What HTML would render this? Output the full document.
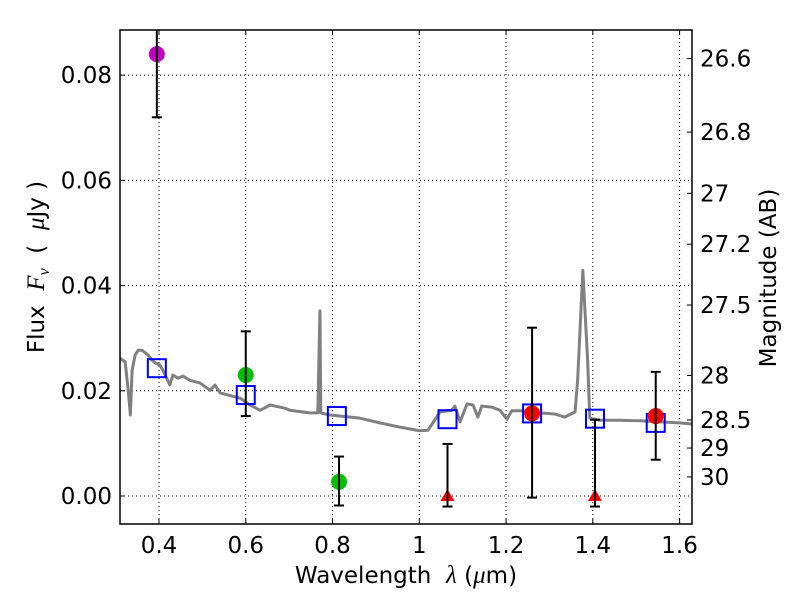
<!DOCTYPE html>
<html><head><meta charset="utf-8"><style>
html,body{margin:0;padding:0;background:#fff;}
svg{display:block;font-family:"DejaVu Sans","Liberation Sans",sans-serif;}
</style></head><body>
<svg id="chart" width="800" height="600" viewBox="0 0 800 600" xmlns="http://www.w3.org/2000/svg"></svg>
<script>
const xTicks=[0.4,0.6,0.8,1.0,1.2,1.4,1.6];
const xTickLabels=["0.4","0.6","0.8","1","1.2","1.4","1.6"];
const yTicks=[0,0.02,0.04,0.06,0.08];
const yTickLabels=["0.00","0.02","0.04","0.06","0.08"];
const magTicks=[26.6,26.8,27,27.2,27.5,28,28.5,29,30];
const magTickLabels=["26.6","26.8","27","27.2","27.5","28","28.5","29","30"];
const specWave=[0.310,0.322,0.329,0.334,0.338,0.345,0.352,0.361,0.375,0.384,0.391,0.402,0.409,0.425,0.432,0.444,0.455,0.471,0.494,0.518,0.529,0.541,0.587,0.610,0.633,0.656,0.690,0.702,0.729,0.748,0.766,0.771,0.773,0.794,0.863,0.909,0.955,1.001,1.020,1.048,1.075,1.082,1.094,1.110,1.124,1.135,1.144,1.167,1.186,1.202,1.213,1.232,1.278,1.312,1.335,1.359,1.365,1.377,1.388,1.393,1.416,1.462,1.508,1.554,1.600,1.628];
const specFlux=[0.0262,0.0255,0.0201,0.0154,0.0239,0.0268,0.0277,0.0277,0.0268,0.0258,0.0253,0.0249,0.0239,0.0211,0.0230,0.0224,0.0228,0.0220,0.0215,0.0201,0.0211,0.0196,0.0186,0.0173,0.0163,0.0173,0.0167,0.0163,0.0160,0.0158,0.0158,0.0352,0.0158,0.0154,0.0148,0.0139,0.0131,0.0124,0.0125,0.0160,0.0163,0.0171,0.0141,0.0175,0.0173,0.0150,0.0171,0.0169,0.0163,0.0146,0.0162,0.0162,0.0158,0.0156,0.0150,0.0160,0.0220,0.0429,0.0258,0.0148,0.0144,0.0144,0.0143,0.0141,0.0139,0.0137];
const obsWave=[0.395,0.6,0.815,1.26,1.545];
const obsFlux=[0.084,0.023,0.0027,0.0157,0.0152];
const obsLo=[0.072,0.0152,-0.0018,-0.0003,0.0069];
const obsHi=[0.096,0.0313,0.0075,0.032,0.0236];
const obsColor=["#bf00bf","#00bf00","#00bf00","#ff0000","#ff0000"];
const limWave=[1.065,1.405];
const limFlux=[0,0];
const limLo=[-0.002,-0.002];
const limHi=[0.0099,0.0145];
const modWave=[0.395,0.6,0.81,1.065,1.26,1.405,1.545];
const modFlux=[0.0243,0.0192,0.0152,0.0146,0.0157,0.0147,0.0139];

const L=120,R=692,T=30,B=524;
const xMin=0.3101,xMax=1.6286,yMin=-0.00532,yMax=0.08859;
const X=v=>L+(v-xMin)/(xMax-xMin)*(R-L);
const Y=v=>B-(v-yMin)/(yMax-yMin)*(B-T);
const svg=document.getElementById('chart');
const NS="http://www.w3.org/2000/svg";
function mk(tag,attrs,parent){const e=document.createElementNS(NS,tag);for(const k in attrs)e.setAttribute(k,attrs[k]);(parent||svg).appendChild(e);return e;}

const defs=mk('defs',{});const cp=mk('clipPath',{id:'pc'},defs);mk('rect',{x:L,y:T,width:R-L,height:B-T},cp);

xTicks.forEach((t,i)=>{
 const g=mk('line',{x1:X(t),x2:X(t),y1:T,y2:B,stroke:'#000','stroke-width':1,'stroke-dasharray':'1,3'});
 
 
 mk('line',{x1:X(t),x2:X(t),y1:B,y2:B-5,stroke:'#000'});
 mk('line',{x1:X(t),x2:X(t),y1:T,y2:T+5,stroke:'#000'});
 const tx=mk('text',{x:X(t),y:B+29,'font-size':23,'text-anchor':'middle'});tx.textContent=xTickLabels[i];
 
 
});
yTicks.forEach((t,i)=>{
 const g=mk('line',{x1:L,x2:R,y1:Y(t),y2:Y(t),stroke:'#000','stroke-width':1,'stroke-dasharray':'1,3'});
 
 
 mk('line',{x1:L,x2:L+5,y1:Y(t),y2:Y(t),stroke:'#000'});
 const tx=mk('text',{x:L-8,y:Y(t)+8,'font-size':23,'text-anchor':'end'});tx.textContent=yTickLabels[i];
 
 
});
magTicks.forEach((m,i)=>{
 const f=Math.pow(10,-(m-23.9)/2.5);const y=Y(f);
 mk('line',{x1:R,x2:R-5,y1:y,y2:y,stroke:'#000'});
 const tx=mk('text',{x:R+8,y:y+8,'font-size':23,'text-anchor':'start'});tx.textContent=magTickLabels[i];
 
 
});

const plot=mk('g',{'clip-path':'url(#pc)'});
const sp=mk('polyline',{points:specWave.map((w,i)=>X(w)+','+Y(specFlux[i])).join(' '),fill:'none',stroke:'#808080','stroke-width':3,'stroke-linejoin':'round'},plot);



function errbar(x,lo,hi){
 mk('line',{x1:X(x),x2:X(x),y1:Y(lo),y2:Y(hi),stroke:'#000','stroke-width':2},plot);
 [lo,hi].forEach(v=>mk('line',{x1:X(x)-5,x2:X(x)+5,y1:Y(v),y2:Y(v),stroke:'#000','stroke-width':2},plot));
}
modWave.forEach((w,i)=>{
 const r=mk('rect',{x:X(w)-9,y:Y(modFlux[i])-9,width:18,height:18,fill:'none',stroke:'#0000ff','stroke-width':2},plot);
 
 
});
obsWave.forEach((w,i)=>{
 const c=mk('circle',{cx:X(w),cy:Y(obsFlux[i]),r:8,fill:obsColor[i]},plot);
 
 
 errbar(w,obsLo[i],obsHi[i]);
});
limWave.forEach((w,i)=>{
 const x=X(w),y=Y(limFlux[i]);
 const p=mk('polygon',{points:`${x},${y-7} ${x-7},${y+5} ${x+7},${y+5}`,fill:'#ff0000'},plot);
 
 
 errbar(w,limLo[i],limHi[i]);
});

const fr=mk('rect',{x:L,y:T,width:R-L,height:B-T,fill:'none',stroke:'#000','stroke-width':1.5});



const xt=mk('text',{x:406,y:583,'font-size':23,'text-anchor':'middle'});
xt.innerHTML='Wavelength&#160;&#160;<tspan font-style="italic" font-family="Liberation Serif,serif" font-size="25">λ</tspan> (<tspan font-style="italic" font-family="Liberation Serif,serif" font-size="25">μ</tspan>m)';


const yt=mk('text',{x:0,y:0,'font-size':23,'text-anchor':'middle',transform:'translate(44,267) rotate(-90)'});
yt.innerHTML='Flux&#160;&#160;<tspan font-style="italic" font-family="Liberation Serif,serif" font-size="25">F</tspan><tspan font-style="italic" font-family="Liberation Serif,serif" font-size="16" dy="5">ν</tspan><tspan dy="-5">&#160;&#160;(&#160;&#160;</tspan><tspan font-style="italic" font-family="Liberation Serif,serif" font-size="25">μ</tspan>Jy&#160;)';


const rt=mk('text',{x:0,y:0,'font-size':23,'text-anchor':'middle',transform:'translate(776,278) rotate(-90)'});
rt.textContent='Magnitude (AB)';


</script>
</body></html>
